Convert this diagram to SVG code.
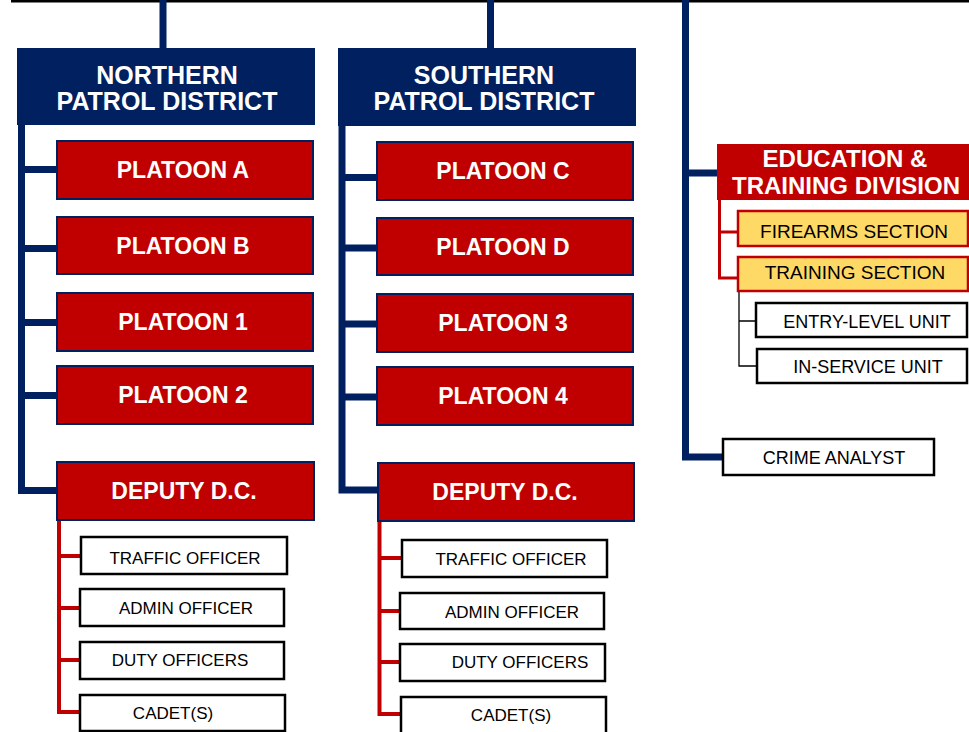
<svg xmlns="http://www.w3.org/2000/svg" width="969" height="732" viewBox="0 0 969 732">
<style>
.hdr{fill:#002060}
.plt{fill:#c00000;stroke:#002060;stroke-width:2}
.edu{fill:#c00000}
.sec{fill:#ffd966;stroke:#c00000;stroke-width:2.5}
.box{fill:#fff;stroke:#000;stroke-width:2.5}
.wb{font-family:"Liberation Sans",Arial,sans-serif;font-weight:bold;fill:#fff;text-anchor:middle}
.bk{font-family:"Liberation Sans",Arial,sans-serif;fill:#000;text-anchor:middle}
.nv{fill:none;stroke:#002060;stroke-width:7}
.rd{fill:none;stroke:#c00000;stroke-width:4}
.rd3{fill:none;stroke:#c00000;stroke-width:3}
.th{fill:none;stroke:#000;stroke-width:1.3}
</style>
<rect x="0" y="0" width="969" height="732" fill="#fff"/>
<g id="connectors">
<rect x="11" y="0" width="958" height="2.5" fill="#000"/>
<path class="nv" d="M163 0V48M490.5 0V48"/>
<path class="nv" d="M21.5 125V490.5H57M21.5 169.5H57M21.5 248.5H57M21.5 322.5H57M21.5 395.5H57"/>
<path class="nv" d="M342 125V490H378M342 177.5H377M342 248H377M342 324H377M342 397H377"/>
<path class="nv" d="M685.5 0V457H723M685.5 173H717"/>
<path class="rd" d="M59 520V712H81M59 556H81M59 608H80M59 660H80"/>
<path class="rd" d="M379.5 521V714H401M379.5 558H402M379.5 611H400M379.5 662H400"/>
<path class="rd3" d="M719.5 200V278H740M719.5 232H738"/>
<path class="th" d="M739 291V366H757M739 321H756"/>
</g>
<g id="northern">
<rect class="hdr" x="17" y="48" width="298" height="77"/>
<text class="wb" font-size="25" x="167" y="84">NORTHERN</text>
<text class="wb" font-size="25" x="167" y="110">PATROL DISTRICT</text>
</g>
<g id="platoon-a"><rect class="plt" x="57" y="141" width="256" height="58"/><text class="wb" font-size="23" x="183" y="178">PLATOON A</text></g>
<g id="platoon-b"><rect class="plt" x="57" y="217" width="256" height="57"/><text class="wb" font-size="23" x="183" y="254">PLATOON B</text></g>
<g id="platoon-1"><rect class="plt" x="57" y="293" width="256" height="58"/><text class="wb" font-size="23" x="183" y="330">PLATOON 1</text></g>
<g id="platoon-2"><rect class="plt" x="57" y="366" width="256" height="58"/><text class="wb" font-size="23" x="183" y="403">PLATOON 2</text></g>
<g id="deputy-n"><rect class="plt" x="57" y="462" width="257" height="58"/><text class="wb" font-size="23" x="184" y="499">DEPUTY D.C.</text></g>
<g id="traffic-n"><rect class="box" x="81" y="537" width="206" height="37"/><text class="bk" font-size="17" x="185" y="564">TRAFFIC OFFICER</text></g>
<g id="admin-n"><rect class="box" x="80" y="589" width="204" height="37"/><text class="bk" font-size="17" x="186" y="614">ADMIN OFFICER</text></g>
<g id="duty-n"><rect class="box" x="80" y="642" width="204" height="37"/><text class="bk" font-size="17" x="180" y="666">DUTY OFFICERS</text></g>
<g id="cadet-n"><rect class="box" x="80" y="695" width="205" height="36"/><text class="bk" font-size="17" x="173" y="719">CADET(S)</text></g>
<g id="southern">
<rect class="hdr" x="338" y="48" width="298" height="78"/>
<text class="wb" font-size="25" x="484" y="84">SOUTHERN</text>
<text class="wb" font-size="25" x="484" y="110">PATROL DISTRICT</text>
</g>
<g id="platoon-c"><rect class="plt" x="377" y="142" width="256" height="58"/><text class="wb" font-size="23" x="503" y="179">PLATOON C</text></g>
<g id="platoon-d"><rect class="plt" x="377" y="218" width="256" height="57"/><text class="wb" font-size="23" x="503" y="255">PLATOON D</text></g>
<g id="platoon-3"><rect class="plt" x="377" y="294" width="256" height="58"/><text class="wb" font-size="23" x="503" y="331">PLATOON 3</text></g>
<g id="platoon-4"><rect class="plt" x="377" y="367" width="256" height="58"/><text class="wb" font-size="23" x="503" y="404">PLATOON 4</text></g>
<g id="deputy-s"><rect class="plt" x="378" y="463" width="256" height="58"/><text class="wb" font-size="23" x="505" y="500">DEPUTY D.C.</text></g>
<g id="traffic-s"><rect class="box" x="402" y="540" width="205" height="37"/><text class="bk" font-size="17" x="511" y="565">TRAFFIC OFFICER</text></g>
<g id="admin-s"><rect class="box" x="400" y="593" width="204" height="36"/><text class="bk" font-size="17" x="512" y="618">ADMIN OFFICER</text></g>
<g id="duty-s"><rect class="box" x="400" y="644" width="205" height="37"/><text class="bk" font-size="17" x="520" y="668">DUTY OFFICERS</text></g>
<g id="cadet-s"><rect class="box" x="401" y="697" width="205" height="38"/><text class="bk" font-size="17" x="511" y="721">CADET(S)</text></g>
<g id="education">
<rect class="edu" x="717" y="144" width="252" height="56"/>
<text class="wb" font-size="24" x="845" y="167">EDUCATION &amp;</text>
<text class="wb" font-size="24" x="846" y="194">TRAINING DIVISION</text>
</g>
<g id="firearms"><rect class="sec" x="738" y="211" width="230" height="35"/><text class="bk" font-size="19" x="854" y="238">FIREARMS SECTION</text></g>
<g id="training"><rect class="sec" x="738" y="257" width="230" height="34"/><text class="bk" font-size="19" x="855" y="279">TRAINING SECTION</text></g>
<g id="entry-level"><rect class="box" x="756" y="303" width="211" height="34"/><text class="bk" font-size="18" x="867" y="328">ENTRY-LEVEL UNIT</text></g>
<g id="in-service"><rect class="box" x="757" y="349" width="210" height="34"/><text class="bk" font-size="18" x="868" y="373">IN-SERVICE UNIT</text></g>
<g id="crime-analyst"><rect class="box" x="723" y="439" width="211" height="36"/><text class="bk" font-size="18" x="834" y="464">CRIME ANALYST</text></g>
</svg>
